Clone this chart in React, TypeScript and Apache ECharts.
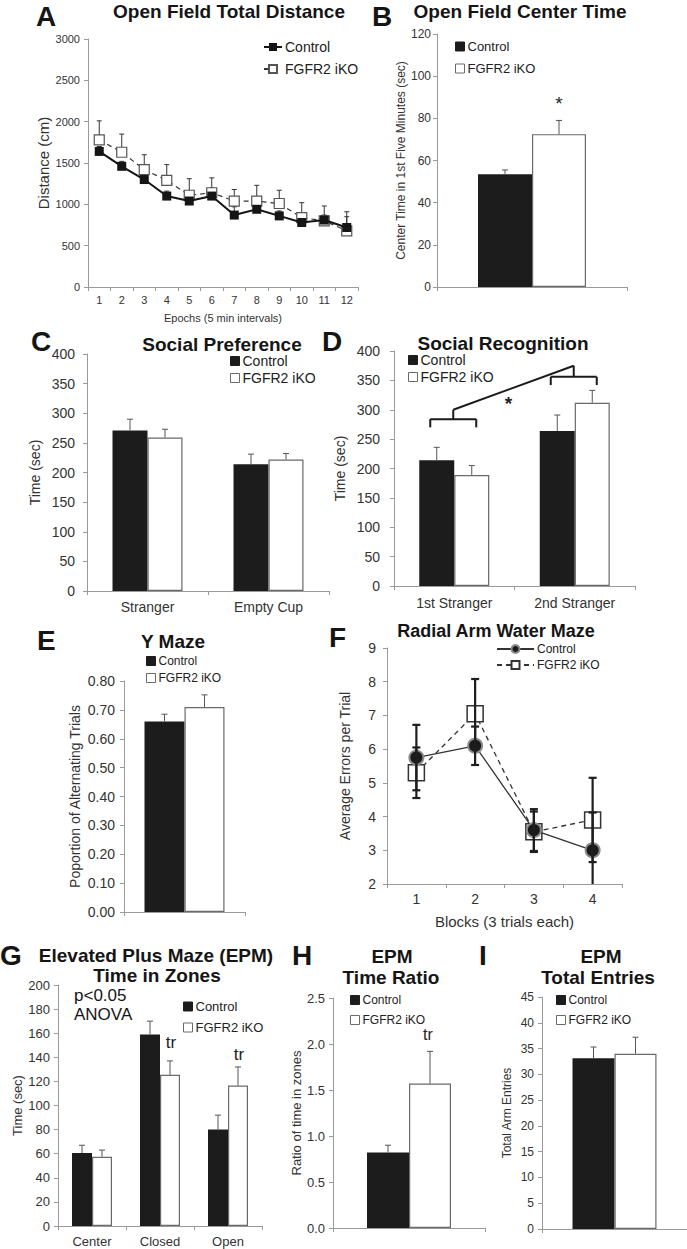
import React, { useEffect, useRef } from 'react';
import * as echarts from 'echarts';

const FONT = '"Liberation Sans", Arial, Helvetica, sans-serif';

// ---------------- A: Open Field Total Distance ----------------
const epochs = ['1', '2', '3', '4', '5', '6', '7', '8', '9', '10', '11', '12'];
const distControl = [1640, 1460, 1300, 1100, 1040, 1100, 870, 940, 860, 780, 810, 720];
const distControlErr = [60, 60, 60, 60, 60, 100, 100, 80, 60, 50, 60, 130];
const distIko = [1780, 1630, 1420, 1290, 1110, 1140, 1040, 1040, 1010, 840, 800, 680];
const distIkoErr = [230, 220, 180, 190, 200, 180, 140, 190, 160, 180, 180, 230];
const distAxis = [0, 3000, 500];

// ---------------- B: Open Field Center Time ----------------
const singleCat = [''];
const centerControl = [53.5];
const centerControlErr = [2.0];
const centerIko = [72.5];
const centerIkoErr = [6.5];
const centerAxis = [0, 120, 20];
const centerStar = [87];

// ---------------- C: Social Preference ----------------
const prefCats = ['Stranger', 'Empty Cup'];
const prefControl = [271, 214];
const prefControlErr = [19, 17];
const prefIko = [259, 222];
const prefIkoErr = [14, 10];
const socialAxis = [0, 400, 50];

// ---------------- D: Social Recognition ----------------
const recogCats = ['1st Stranger', '2nd Stranger'];
const recogControl = [214, 264];
const recogControlErr = [22, 27];
const recogIko = [189, 312];
const recogIkoErr = [16, 21];
const recogBracketLevel = [284, 356];
const recogBracketFoot = [270, 342];
const recogBracketPeak = [300, 375];
const recogStar = [311];

// ---------------- E: Y Maze ----------------
const yMazeControl = [0.66];
const yMazeControlErr = [0.025];
const yMazeIko = [0.71];
const yMazeIkoErr = [0.042];
const yMazeAxis = [0, 0.8, 0.1];

// ---------------- F: Radial Arm Water Maze ----------------
const blocks = ['1', '2', '3', '4'];
const ramControl = [5.75, 6.1, 3.6, 3.0];
const ramControlErr = [0.97, 0.57, 0.62, 1.12];
const ramIko = [5.3, 7.05, 3.55, 3.9];
const ramIkoErr = [0.75, 1.03, 0.6, 1.25];
const ramAxis = [2, 9, 1];

// ---------------- G: EPM Time in Zones ----------------
const zones = ['Center', 'Closed', 'Open'];
const zoneControl = [60.5, 159, 80];
const zoneControlErr = [6.5, 11, 12];
const zoneIko = [57.5, 125.5, 116.5];
const zoneIkoErr = [5.5, 11.5, 15.5];
const zoneAxis = [0, 200, 20];
const zoneTrCats = [1, 2];
const zoneTrValues = [152, 142];

// ---------------- H: EPM Time Ratio ----------------
const ratioControl = [0.82];
const ratioControlErr = [0.08];
const ratioIko = [1.57];
const ratioIkoErr = [0.35];
const ratioAxis = [0, 2.5, 0.5];
const ratioTr = [2.1];

// ---------------- I: EPM Total Entries ----------------
const entriesControl = [33.1];
const entriesControlErr = [2.2];
const entriesIko = [34.0];
const entriesIkoErr = [3.2];
const entriesAxis = [0, 45, 5];

// ---------------- layout / style ----------------
const AXIS = '#9a9a9a';
const LABEL = '#333';
const CTRL_FILL = '#1c1c1c';
const IKO_BORDER = '#6a6a6a';

const grids = [
  { left: 88, top: 39, width: 270, height: 248 }, // A
  { left: 437, top: 34, width: 190, height: 253 }, // B
  { left: 87, top: 354, width: 242, height: 237 }, // C
  { left: 394, top: 351, width: 241, height: 235 }, // D
  { left: 124, top: 681, width: 121, height: 231 }, // E
  { left: 387, top: 648, width: 235, height: 236 }, // F
  { left: 58, top: 985, width: 204, height: 241 }, // G
  { left: 333, top: 998, width: 152, height: 230 }, // H
  { left: 542, top: 997, width: 152, height: 232 }, // I
];

function valAxis(grid: number, range: number[], fontSize: number, margin: number, name: string, nameSize: number, nameGap: number, decimals = 0) {
  return {
    type: 'value',
    gridIndex: grid,
    min: range[0],
    max: range[1],
    interval: range[2],
    axisLine: { show: true, lineStyle: { color: AXIS, width: 1 } },
    axisTick: { show: true, length: 4, lineStyle: { color: AXIS } },
    splitLine: { show: false },
    axisLabel: {
      fontSize,
      margin,
      color: LABEL,
      fontFamily: FONT,
      formatter: (v: number) => v.toFixed(decimals),
    },
    name,
    nameLocation: 'middle',
    nameGap,
    nameTextStyle: { fontSize: nameSize, color: LABEL, fontFamily: FONT },
  };
}

function catAxis(grid: number, data: string[], fontSize: number, margin: number, showLabel: boolean, name = '', nameSize = 12, nameGap = 20) {
  return {
    type: 'category',
    gridIndex: grid,
    data,
    boundaryGap: true,
    axisLine: { show: true, onZero: false, lineStyle: { color: AXIS, width: 1 } },
    axisTick: { show: true, length: 4, lineStyle: { color: AXIS } },
    axisLabel: { show: showLabel, fontSize, margin, color: LABEL, fontFamily: FONT, interval: 0 },
    splitLine: { show: false },
    name,
    nameLocation: 'middle',
    nameGap,
    nameTextStyle: { fontSize: nameSize, color: LABEL, fontFamily: FONT },
  };
}

function barSeries(grid: number, ctrl: boolean, data: number[], barWidth: number) {
  return {
    type: 'bar',
    name: (ctrl ? 'Control|' : 'FGFR2 iKO|') + grid,
    xAxisIndex: grid,
    yAxisIndex: grid,
    data,
    barWidth,
    barGap: '0%',
    silent: true,
    z: 2,
    itemStyle: ctrl
      ? { color: CTRL_FILL, borderColor: CTRL_FILL, borderWidth: 0 }
      : { color: '#ffffff', borderColor: IKO_BORDER, borderWidth: 1.2 },
  };
}

function errorSeries(grid: number, values: number[], errs: number[], offset: number, opts: { both?: boolean; color?: string; width?: number; cap?: number; min?: number; z?: number }) {
  const color = opts.color || '#444';
  const width = opts.width || 1;
  const cap = opts.cap || 3;
  return {
    type: 'custom',
    xAxisIndex: grid,
    yAxisIndex: grid,
    silent: true,
    z: opts.z ?? 3,
    data: values.map((v, i) => [i, v, errs[i]]),
    renderItem: (_p: any, api: any) => {
      const i = api.value(0);
      const v = api.value(1);
      const e = api.value(2);
      const base = api.coord([i, v]);
      const x = base[0] + offset;
      const top = api.coord([i, v + e])[1];
      let low = v;
      let lowCap = false;
      if (opts.both) {
        const lv = v - e;
        if (opts.min !== undefined && lv < opts.min) {
          low = opts.min;
        } else {
          low = lv;
          lowCap = true;
        }
      }
      const bot = api.coord([i, low])[1];
      const st = { stroke: color, lineWidth: width };
      const children: any[] = [
        { type: 'line', shape: { x1: x, y1: bot, x2: x, y2: top }, style: st },
        { type: 'line', shape: { x1: x - cap, y1: top, x2: x + cap, y2: top }, style: st },
      ];
      if (lowCap) {
        children.push({ type: 'line', shape: { x1: x - cap, y1: bot, x2: x + cap, y2: bot }, style: st });
      }
      return { type: 'group', children };
    },
  };
}

function annotSeries(grid: number, cats: number[], values: number[], texts: string[], dx: number, fontSize: number) {
  return {
    type: 'custom',
    xAxisIndex: grid,
    yAxisIndex: grid,
    silent: true,
    z: 6,
    data: cats.map((c, i) => [c, values[i]]),
    renderItem: (p: any, api: any) => {
      const pt = api.coord([api.value(0), api.value(1)]);
      return {
        type: 'text',
        x: pt[0] + dx,
        y: pt[1],
        style: {
          text: texts[p.dataIndex],
          font: `${fontSize}px ${FONT}`,
          fill: '#222',
          align: 'center',
          textAlign: 'center',
          verticalAlign: 'middle',
          textVerticalAlign: 'middle',
        },
      };
    },
  };
}

function legendFor(grid: number, left: number, top: number, fontSize: number, gap: number, iconW: number, iconH: number, icon?: string) {
  const l: any = {
    show: true,
    orient: 'vertical',
    left,
    top,
    padding: 0,
    itemGap: gap,
    itemWidth: iconW,
    itemHeight: iconH,
    selectedMode: false,
    data: ['Control|' + grid, 'FGFR2 iKO|' + grid],
    formatter: (n: string) => n.split('|')[0],
    textStyle: { fontSize, color: '#222', fontFamily: FONT, padding: [0, 0, 0, -2] },
  };
  if (icon) {
    l.icon = icon;
    l.itemStyle = { borderWidth: 1 };
  }
  return l;
}

function text(x: number, y: number, s: string, size: number, bold: boolean, align = 'center') {
  return {
    type: 'text',
    x,
    y,
    silent: true,
    style: {
      text: s,
      font: `${bold ? 'bold ' : ''}${size}px ${FONT}`,
      fill: '#151515',
      align,
      textAlign: align,
      verticalAlign: 'middle',
      textVerticalAlign: 'middle',
    },
  };
}

function buildOption() {
  const series: any[] = [];

  // A
  series.push(errorSeries(0, distControl, distControlErr, 0, { color: '#333', width: 1, cap: 2.5, z: 1 }));
  series.push(errorSeries(0, distIko, distIkoErr, 0, { color: '#333', width: 1, cap: 2.5, z: 1 }));
  series.push({
    type: 'line',
    name: 'FGFR2 iKO|0',
    xAxisIndex: 0,
    yAxisIndex: 0,
    data: distIko,
    symbol: 'rect',
    symbolSize: 10,
    silent: true,
    z: 3,
    lineStyle: { color: '#333', width: 1.2, type: [5, 4] },
    itemStyle: { color: '#ffffff', borderColor: '#555', borderWidth: 1.2 },
  });
  series.push({
    type: 'line',
    name: 'Control|0',
    xAxisIndex: 0,
    yAxisIndex: 0,
    data: distControl,
    symbol: 'rect',
    symbolSize: 9,
    silent: true,
    z: 4,
    lineStyle: { color: '#151515', width: 2 },
    itemStyle: { color: '#151515', borderColor: '#151515', borderWidth: 0 },
  });

  // bar panels
  const barPanels: [number, number[], number[], number[], number[], number][] = [
    [1, centerControl, centerControlErr, centerIko, centerIkoErr, 54],
    [2, prefControl, prefControlErr, prefIko, prefIkoErr, 35],
    [3, recogControl, recogControlErr, recogIko, recogIkoErr, 35],
    [4, yMazeControl, yMazeControlErr, yMazeIko, yMazeIkoErr, 40],
    [6, zoneControl, zoneControlErr, zoneIko, zoneIkoErr, 20],
    [7, ratioControl, ratioControlErr, ratioIko, ratioIkoErr, 42],
    [8, entriesControl, entriesControlErr, entriesIko, entriesIkoErr, 42],
  ];
  for (const [g, c, ce, k, ke, w] of barPanels) {
    series.push(barSeries(g, true, c, w));
    series.push(barSeries(g, false, k, w));
    series.push(errorSeries(g, c, ce, -w / 2, { color: '#555', width: 1, cap: 3 }));
    series.push(errorSeries(g, k, ke, w / 2, { color: '#555', width: 1, cap: 3 }));
  }

  // F
  series.push({
    type: 'line',
    name: 'FGFR2 iKO|5',
    xAxisIndex: 5,
    yAxisIndex: 5,
    data: ramIko,
    symbol: 'rect',
    symbolSize: 16,
    silent: true,
    z: 3,
    lineStyle: { color: '#333', width: 1.3, type: [5, 4] },
    itemStyle: { color: '#ffffff', borderColor: '#333', borderWidth: 1.5 },
  });
  series.push({
    type: 'line',
    name: 'Control|5',
    xAxisIndex: 5,
    yAxisIndex: 5,
    data: ramControl,
    symbol: 'circle',
    symbolSize: 14,
    silent: true,
    z: 4,
    lineStyle: { color: '#333', width: 1.3 },
    itemStyle: { color: '#1a1a1a', borderColor: '#8a8a8a', borderWidth: 2 },
  });
  series.push(errorSeries(5, ramControl, ramControlErr, 0, { both: true, min: ramAxis[0], color: '#1e1e1e', width: 2.2, cap: 4, z: 5 }));
  series.push(errorSeries(5, ramIko, ramIkoErr, 0, { both: true, min: ramAxis[0], color: '#1e1e1e', width: 2.2, cap: 4, z: 5 }));

  // annotations
  series.push(annotSeries(1, [0], centerStar, ['*'], 27, 19));
  series.push(annotSeries(6, zoneTrCats, zoneTrValues, ['tr', 'tr'], 11, 17));
  series.push(annotSeries(7, [0], ratioTr, ['tr'], 19, 16));

  // D brackets
  series.push({
    type: 'custom',
    xAxisIndex: 3,
    yAxisIndex: 3,
    silent: true,
    z: 6,
    data: [[0, recogBracketLevel[0]]],
    renderItem: (_p: any, api: any) => {
      const st = { stroke: '#1a1a1a', lineWidth: 2 };
      const half = 23;
      const children: any[] = [];
      const peaks: number[][] = [];
      for (let c = 0; c < 2; c++) {
        const lv = api.coord([c, recogBracketLevel[c]]);
        const ft = api.coord([c, recogBracketFoot[c]])[1];
        const pk = api.coord([c, recogBracketPeak[c]])[1];
        const x0 = lv[0] - 1;
        children.push({ type: 'line', shape: { x1: x0 - half, y1: lv[1], x2: x0 + half, y2: lv[1] }, style: st });
        children.push({ type: 'line', shape: { x1: x0 - half, y1: lv[1], x2: x0 - half, y2: ft }, style: st });
        children.push({ type: 'line', shape: { x1: x0 + half, y1: lv[1], x2: x0 + half, y2: ft }, style: st });
        children.push({ type: 'line', shape: { x1: x0, y1: lv[1], x2: x0, y2: pk }, style: st });
        peaks.push([x0, pk]);
      }
      children.push({ type: 'line', shape: { x1: peaks[0][0], y1: peaks[0][1], x2: peaks[1][0], y2: peaks[1][1] }, style: st });
      const sy = api.coord([0, recogStar[0]])[1];
      children.push({
        type: 'text',
        x: (peaks[0][0] + peaks[1][0]) / 2 - 5,
        y: sy,
        style: { text: '*', font: `bold 19px ${FONT}`, fill: '#222', align: 'center', textAlign: 'center', verticalAlign: 'middle', textVerticalAlign: 'middle' },
      });
      return { type: 'group', children };
    },
  });

  const xAxis = [
    catAxis(0, epochs, 11, 7, true, 'Epochs (5 min intervals)', 11, 25),
    catAxis(1, singleCat, 11, 8, false),
    catAxis(2, prefCats, 14, 9, true),
    catAxis(3, recogCats, 14, 10, true),
    catAxis(4, singleCat, 11, 8, false),
    catAxis(5, blocks, 14, 8, true, 'Blocks (3 trials each)', 15, 30),
    catAxis(6, zones, 13, 9, true),
    catAxis(7, singleCat, 11, 8, false),
    catAxis(8, singleCat, 11, 8, false),
  ];
  const yAxis = [
    valAxis(0, distAxis, 11, 8, 'Distance (cm)', 15, 37),
    valAxis(1, centerAxis, 12, 6, 'Center Time in 1st Five Minutes (sec)', 12, 27),
    valAxis(2, socialAxis, 14, 12, 'Time (sec)', 14, 45),
    valAxis(3, socialAxis, 14, 14, 'Time (sec)', 14, 47),
    valAxis(4, yMazeAxis, 14, 9, 'Poportion of Alternating Trials', 14, 42, 2),
    valAxis(5, ramAxis, 14, 11, 'Average Errors per Trial', 14, 35),
    valAxis(6, zoneAxis, 13, 8, 'Time (sec)', 13, 34),
    valAxis(7, ratioAxis, 13, 8, 'Ratio of time in zones', 13, 24, 1),
    valAxis(8, entriesAxis, 12, 8, 'Total Arm Entries', 12, 29),
  ];

  const legend = [
    legendFor(0, 263, 40, 14, 8, 18, 10),
    legendFor(1, 455, 40, 13, 9, 9, 9, 'rect'),
    legendFor(2, 230, 354, 14, 3, 9, 9, 'rect'),
    legendFor(3, 408, 353, 14, 3, 9, 9, 'rect'),
    legendFor(4, 146, 655, 12, 5, 9, 9, 'rect'),
    legendFor(5, 496, 643, 12, 4, 37, 10),
    legendFor(6, 183, 1000, 13, 8, 9, 9, 'rect'),
    legendFor(7, 350, 994, 12, 8, 9, 9, 'rect'),
    legendFor(8, 556, 994, 12, 8, 9, 9, 'rect'),
  ];

  const graphic = [
    text(36, 16, 'A', 28, true, 'left'),
    text(229, 11, 'Open Field Total Distance', 19, true),
    text(372, 16, 'B', 28, true, 'left'),
    text(520, 11, 'Open Field Center Time', 19, true),
    text(31, 341, 'C', 28, true, 'left'),
    text(222, 344, 'Social Preference', 19, true),
    text(322, 341, 'D', 28, true, 'left'),
    text(503, 343, 'Social Recognition', 19, true),
    text(37, 640, 'E', 28, true, 'left'),
    text(173, 641, 'Y Maze', 19, true),
    text(329, 637, 'F', 28, true, 'left'),
    text(496, 631, 'Radial Arm Water Maze', 18, true),
    text(0, 955, 'G', 28, true, 'left'),
    text(156, 955, 'Elevated Plus Maze (EPM)', 19, true),
    text(157, 975, 'Time in Zones', 19, true),
    text(74, 995, 'p<0.05', 17, false, 'left'),
    text(74, 1014, 'ANOVA', 17, false, 'left'),
    text(292, 955, 'H', 28, true, 'left'),
    text(392, 956, 'EPM', 19, true),
    text(391, 977, 'Time Ratio', 19, true),
    text(479, 955, 'I', 28, true, 'left'),
    text(601, 956, 'EPM', 19, true),
    text(598, 977, 'Total Entries', 19, true),
  ];

  return {
    animation: false,
    backgroundColor: '#ffffff',
    textStyle: { fontFamily: FONT },
    grid: grids.map((g) => ({ ...g, containLabel: false })),
    xAxis,
    yAxis,
    legend,
    series,
    graphic,
  };
}

export default function App() {
  const ref = useRef<HTMLDivElement>(null);
  useEffect(() => {
    if (!ref.current) return;
    const chart = echarts.init(ref.current, null, { renderer: 'svg' });
    chart.setOption(buildOption() as any);
    return () => chart.dispose();
  }, []);
  return (
    <div
      ref={ref}
      style={{ position: 'absolute', left: 0, top: 0, width: 687, height: 1249, background: '#fff' }}
    />
  );
}
